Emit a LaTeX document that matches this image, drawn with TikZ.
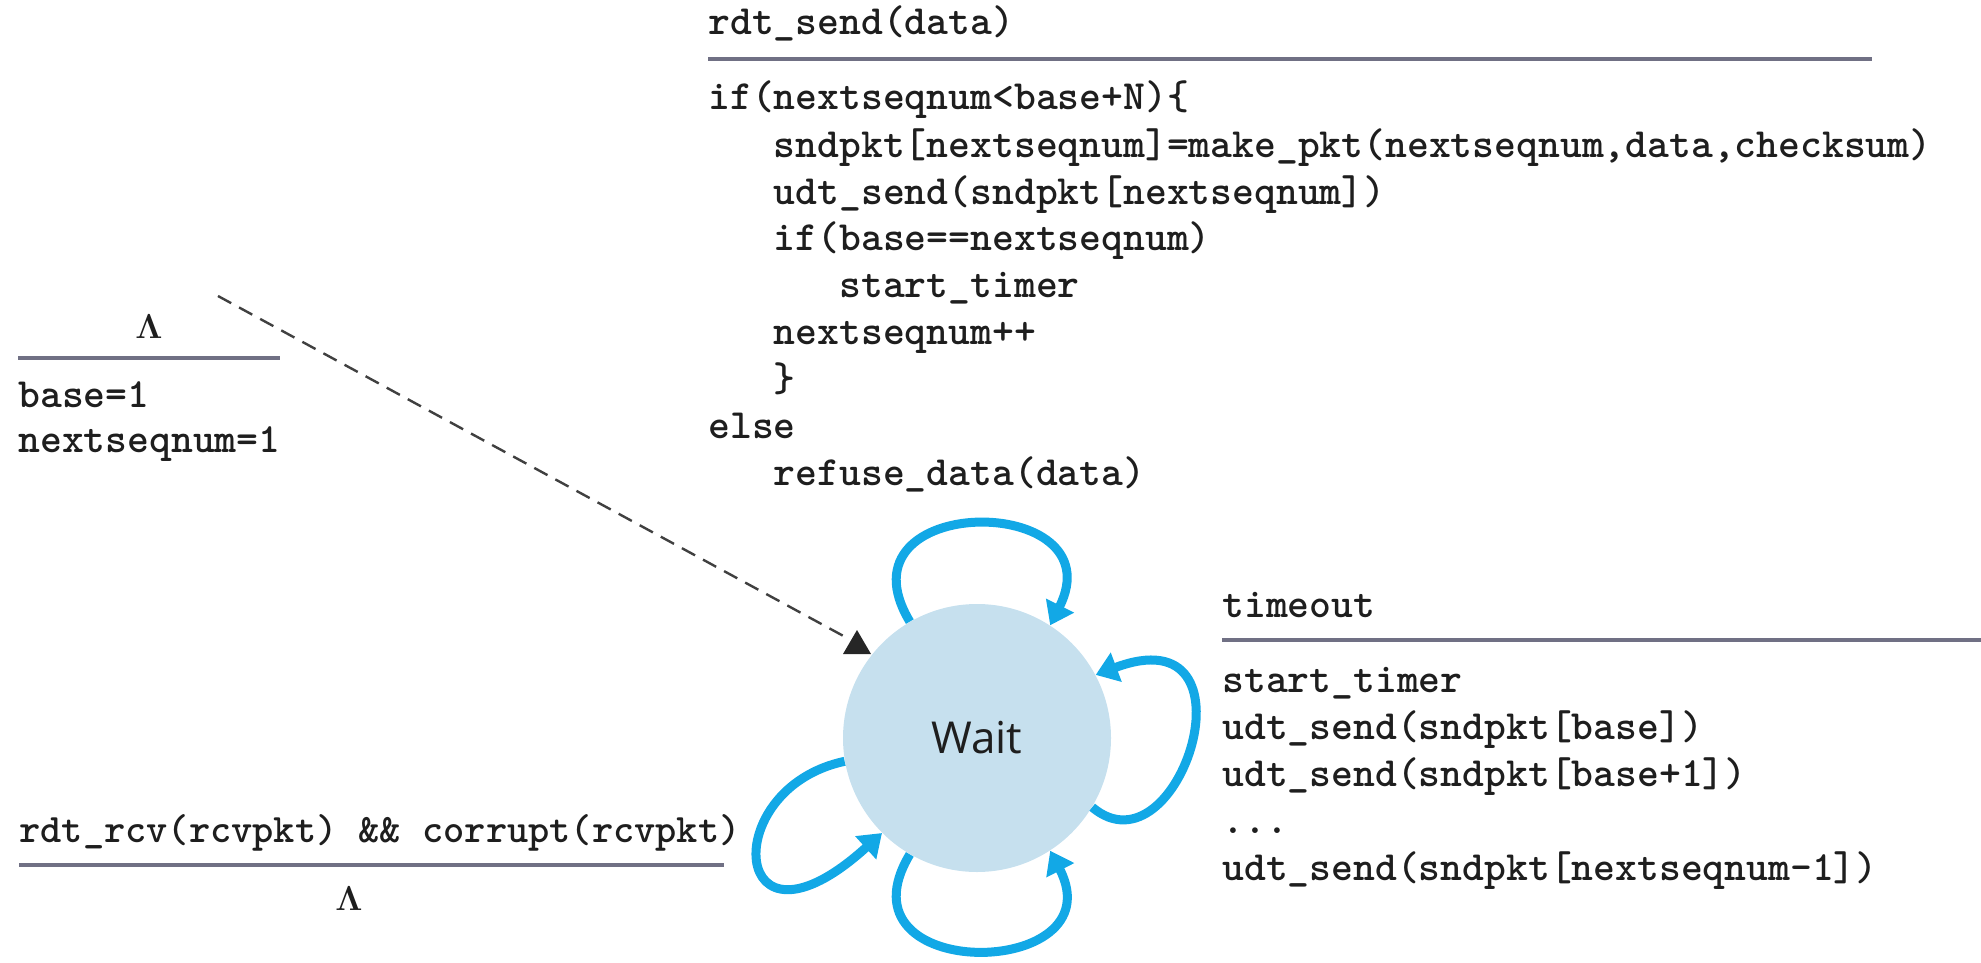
\documentclass[tikz,border=0pt]{standalone}
\usepackage{fontspec}
\usepackage{amsmath}
\newfontfamily\waitfont{Open Sans}
\usetikzlibrary{arrows.meta}
\definecolor{loopblue}{RGB}{18,168,230}
\definecolor{statefill}{RGB}{198,224,238}
\definecolor{rulegray}{RGB}{112,112,132}
\definecolor{txt}{RGB}{30,30,30}
\newcommand\ind{\hphantom{xxx}}
\begin{document}
\begin{tikzpicture}[x=0.5pt,y=-0.5pt,
  code/.style={anchor=base west, inner sep=0pt, font=\fontsize{20.8}{24}\selectfont\ttfamily\bfseries, text=txt},
  narrowcode/.style={code, font=\fontsize{20.2}{24}\selectfont\ttfamily\bfseries},
  lam/.style={anchor=base, inner sep=0pt, font=\fontsize{18}{20}\selectfont, text=txt},
  rulel/.style={draw=rulegray, line width=1.6pt},
  state/.style={circle, fill=statefill, inner sep=0pt, minimum size=134pt, font=\waitfont\fontsize{22}{26}\selectfont, text=txt},
  selfloop/.style={draw=loopblue, line width=4.5pt, -{Triangle[length=11pt,width=15pt]}},
  initarrow/.style={draw=black!75, line width=1.2pt, dash pattern=on 7.5pt off 4.5pt},
]
\useasboundingbox (0,0) rectangle (1981,963);

% state
\node[state] (w) at (977,738) {Wait};

% self loops
\draw[selfloop] (w.120) .. controls +(-78,-130) and +(67,-134) .. (w.57);
\draw[selfloop] (w.-31) .. controls +(87,73) and +(168,-63) .. (w.28);
\draw[selfloop] (w.240) .. controls +(-78,130) and +(67,130) .. (w.-57);
\draw[selfloop] (w.190) .. controls +(-128,27) and +(-152,138) .. (w.225);

% initial transition
\coordinate (init) at (218,296);
\coordinate (initend) at (849,639);
\draw[initarrow] (init) -- (initend);
\fill[black!85] (857,630) -- (843,654) -- (871,654) -- cycle;

% top block: rdt_send
\node[code] (s0) at (708,35) {rdt\_send(data)};
\draw[rulel] (708,59) -- (1872,59);
\node[code] (s1) at (708,110) {if(nextseqnum<base+N)\{};
\node[code] (s2) at (708,157) {\ind sndpkt[nextseqnum]=make\_pkt(nextseqnum,data,checksum)};
\node[code] (s3) at (708,204) {\ind udt\_send(sndpkt[nextseqnum])};
\node[code] (s4) at (708,250) {\ind if(base==nextseqnum)};
\node[code] (s5) at (708,297) {\ind\ind start\_timer};
\node[code] (s6) at (708,344) {\ind nextseqnum++};
\node[code] (s7) at (708,391) {\ind \}};
\node[code] (s8) at (708,438) {else};
\node[code] (s9) at (708,485) {\ind refuse\_data(data)};

% left block: init
\node[lam] (l0) at (149,338) {$\boldsymbol{\Lambda}$};
\draw[rulel] (18,358) -- (280,358);
\node[code] (l1) at (18,407) {base=1};
\node[code] (l2) at (18,452) {nextseqnum=1};

% right block: timeout
\node[code] (t0) at (1222,617) {timeout};
\draw[rulel] (1222,640) -- (1981,640);
\node[code] (t1) at (1222,692) {start\_timer};
\node[code] (t2) at (1222,739) {udt\_send(sndpkt[base])};
\node[code] (t3) at (1222,786) {udt\_send(sndpkt[base+1])};
\node[code] (t4) at (1222,833) {...};
\node[code] (t5) at (1222,880) {udt\_send(sndpkt[nextseqnum-1])};

% bottom-left block: corrupt
\node[narrowcode] (c0) at (19,842) {rdt\_rcv(rcvpkt) \&\& corrupt(rcvpkt)};
\draw[rulel] (19,865) -- (724,865);
\node[lam] (c1) at (349,910) {$\boldsymbol{\Lambda}$};
\end{tikzpicture}
\end{document}
